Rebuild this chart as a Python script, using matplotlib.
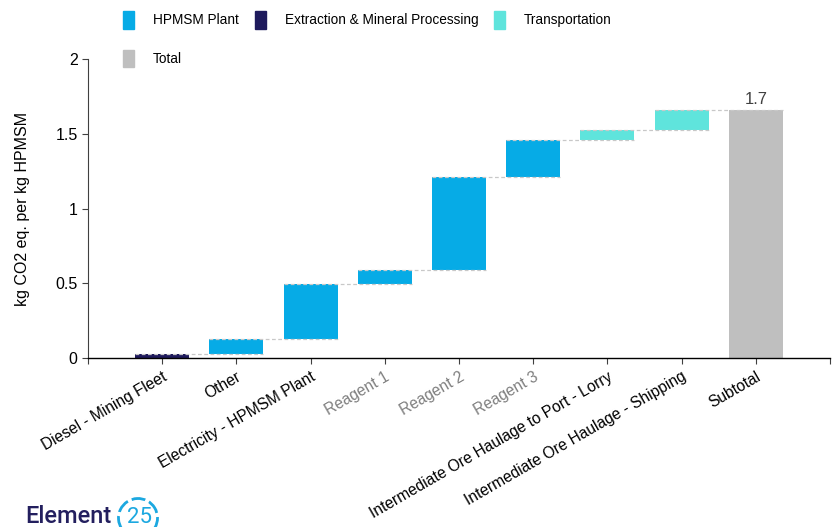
import numpy as np
import matplotlib.pyplot as plt
from matplotlib.patches import Patch, Arc

plt.rcParams['font.family'] = ['Liberation Sans', 'DejaVu Sans']

# data
categories = ["Diesel - Mining Fleet", "Other", "Electricity - HPMSM Plant",
              "Reagent 1", "Reagent 2", "Reagent 3",
              "Intermediate Ore Haulage to Port - Lorry",
              "Intermediate Ore Haulage - Shipping", "Subtotal"]
values = [0.027, 0.10, 0.368, 0.094, 0.622, 0.247, 0.067, 0.134]
groups = ["Extraction & Mineral Processing", "HPMSM Plant", "HPMSM Plant",
          "HPMSM Plant", "HPMSM Plant", "HPMSM Plant",
          "Transportation", "Transportation"]
total_label = "1.7"
grey_labels = ["Reagent 1", "Reagent 2", "Reagent 3"]

colors = {"HPMSM Plant": "#06abe6",
          "Extraction & Mineral Processing": "#1e1a5c",
          "Transportation": "#5fe4dc",
          "Total": "#bfbfbf"}


def main():
    fig = plt.figure(figsize=(8.35, 5.27), dpi=100)
    ax = fig.add_axes([0.1054, 0.3207, 0.8886, 0.5673])

    width = 0.73
    bottoms = np.concatenate([[0], np.cumsum(values)[:-1]])
    tops = np.cumsum(values)
    total = tops[-1]
    x = np.arange(len(categories))

    for i, (b, v, g) in enumerate(zip(bottoms, values, groups)):
        ax.bar(x[i], v, bottom=b, width=width, color=colors[g], zorder=2)
    ax.bar(x[-1], total, width=width, color=colors["Total"], zorder=2)

    # dashed connectors
    for i in range(len(values)):
        ax.plot([x[i] - width / 2, x[i + 1] + width / 2], [tops[i], tops[i]],
                color="#c8c8c8", lw=0.9, ls=(0, (3, 2)), zorder=3)

    ax.text(x[-1], total + 0.02, total_label, ha="center", va="bottom",
            fontsize=12, color="#404040")

    ax.set_xlim(-1, len(categories))
    ax.set_ylim(0, 2)
    ax.set_yticks([0, 0.5, 1, 1.5, 2])
    ax.set_yticklabels(["0", "0.5", "1", "1.5", "2"])
    ax.set_xticks(np.arange(-1, len(categories) + 1))
    ax.set_xticklabels([""] + categories + [""], rotation=30, ha="right",
                       rotation_mode="anchor", fontsize=11.2)
    for lab in ax.get_xticklabels():
        if lab.get_text() in grey_labels:
            lab.set_color("#7f7f7f")
    ax.tick_params(axis="y", labelsize=11.5, length=4, color="#404040")
    ax.tick_params(axis="x", length=4, color="#404040", pad=4)
    ax.set_ylabel("kg CO2 eq. per kg HPMSM", fontsize=11.5, labelpad=18)

    for s in ["top", "right"]:
        ax.spines[s].set_visible(False)
    ax.spines["left"].set_color("#404040")
    ax.spines["bottom"].set_color("#000000")
    ax.spines["bottom"].set_linewidth(1.0)

    handles = [Patch(color=colors["HPMSM Plant"], label="HPMSM Plant"),
               Patch(color=colors["Total"], label="Total"),
               Patch(color=colors["Extraction & Mineral Processing"],
                     label="Extraction & Mineral Processing"),
               Patch(color=colors["Transportation"], label="Transportation")]
    fig.legend(handles=handles, ncol=3, loc="upper left",
               bbox_to_anchor=(0.133, 1.002), frameon=False, fontsize=9.8,
               handlelength=0.8, handleheight=1.6, handletextpad=1.4,
               columnspacing=1.15, labelspacing=1.55)

    # logo
    lax = fig.add_axes([0, 0, 0.25, 0.09])
    lax.set_xlim(0, 208.75)
    lax.set_ylim(527, 527 - 47.43)
    lax.set_aspect("equal")
    lax.axis("off")
    lax.text(25, 523, "Element", fontsize=17, color="#231f5e", va="baseline",
             fontfamily="Roboto", fontweight="medium")
    lax.text(127, 523, "25", fontsize=16, color="#1ca8e0", va="baseline",
             fontfamily="Roboto")
    # y axis is flipped here, so angles run clockwise on screen
    lax.add_patch(Arc((138, 518), 39, 39, theta1=-215, theta2=30,
                      color="#1ca8e0", lw=2, ls=(0, (5, 1.5))))

    fig.savefig("out.png", dpi=100)


if __name__ == "__main__":
    main()
